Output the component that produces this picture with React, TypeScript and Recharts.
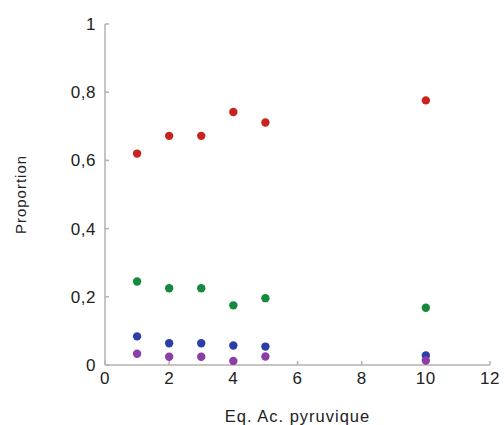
import { ScatterChart, Scatter, XAxis, YAxis } from "recharts";

const xValues = [1, 2, 3, 4, 5, 10];
const redValues = [0.62, 0.672, 0.672, 0.742, 0.711, 0.776];
const greenValues = [0.245, 0.225, 0.225, 0.175, 0.196, 0.168];
const blueValues = [0.084, 0.064, 0.064, 0.057, 0.054, 0.028];
const purpleValues = [0.033, 0.024, 0.024, 0.012, 0.025, 0.013];
const xTicks = [0, 2, 4, 6, 8, 10, 12];
const yTicks = [0, 0.2, 0.4, 0.6, 0.8, 1];

const toPts = (ys: number[]) => xValues.map((x, i) => ({ x, y: ys[i] }));

const series = [
  { name: "red", data: toPts(redValues), color: "#c9231f" },
  { name: "green", data: toPts(greenValues), color: "#168a3c" },
  { name: "blue", data: toPts(blueValues), color: "#2b3fa6" },
  { name: "purple", data: toPts(purpleValues), color: "#8b3fa6" },
];

const font = "'Liberation Sans', Arial, sans-serif";
const axisColor = "#b5b0ae";
const tickStyle = { fontSize: 17, fill: "#222", letterSpacing: 0.5 };

const dot = (color: string) => (props: any) => (
  <circle cx={props.cx} cy={props.cy} r={4.2} fill={color} />
);

export default function App() {
  return (
    <div style={{ position: "absolute", left: 0, top: 0, background: "#fff" }}>
      <ScatterChart
        width={504}
        height={425}
        margin={{ top: 24, right: 14, left: 0, bottom: 0 }}
        style={{ fontFamily: font }}
      >
        <XAxis
          type="number"
          dataKey="x"
          domain={[0, 12]}
          ticks={xTicks}
          height={60}
          stroke={axisColor}
          strokeWidth={1.5}
          tickSize={-4}
          tickMargin={11}
          tick={tickStyle}
          label={{
            value: "Eq. Ac. pyruvique",
            position: "insideBottom",
            offset: 3,
            style: { fontSize: 16.5, fill: "#222", letterSpacing: 1 },
          }}
        />
        <YAxis
          type="number"
          dataKey="y"
          domain={[0, 1]}
          ticks={yTicks}
          width={105}
          stroke={axisColor}
          strokeWidth={1.5}
          tickSize={-4}
          tickMargin={13}
          tickFormatter={(v: number) => String(v).replace(".", ",")}
          tick={tickStyle}
          label={{
            value: "Proportion",
            angle: -90,
            position: "insideLeft",
            offset: 21,
            style: { fontSize: 15, fill: "#222", letterSpacing: 1, textAnchor: "middle" },
          }}
        />
        {series.map((s) => (
          <Scatter
            key={s.name}
            data={s.data}
            fill={s.color}
            shape={dot(s.color)}
            isAnimationActive={false}
          />
        ))}
      </ScatterChart>
    </div>
  );
}
